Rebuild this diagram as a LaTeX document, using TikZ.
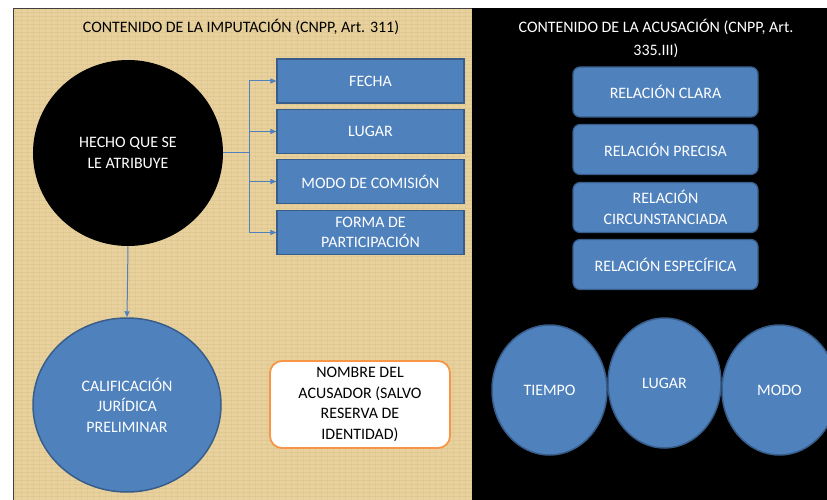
\documentclass[tikz,border=0pt]{standalone}
\usepackage{fontspec}
\setmainfont{Carlito}
\usetikzlibrary{shapes.geometric,arrows.meta}
\definecolor{parch}{HTML}{E8D19D}
\definecolor{parchdark}{HTML}{C4A86C}
\definecolor{bluefill}{HTML}{4F81BD}
\definecolor{blueline}{HTML}{385D8A}
\definecolor{orangeline}{HTML}{F79646}
\tikzset{
  lbl/.style={font=\fontsize{16}{20.5}\selectfont, align=center},
  bluebox/.style={lbl, draw=blueline, line width=1.2pt, fill=bluefill, text=white, minimum width=187bp, minimum height=44bp, inner sep=0pt},
  roundbox/.style={bluebox, rounded corners=7bp, minimum width=185bp, minimum height=50bp},
  blueell/.style={lbl, ellipse, draw=blueline, line width=1.5pt, fill=bluefill, text=white, inner sep=0pt},
  arr/.style={draw=bluefill, line width=1pt, -{Triangle[length=6pt,width=5pt]}},
  conn/.style={draw=bluefill, line width=1pt}
}
\begin{document}
\begin{tikzpicture}[x=1bp,y=-1bp]
\useasboundingbox (0,0) rectangle (827,500);
\clip (0,0) rectangle (827,500);
% left parchment panel
\fill[parch] (13,9) rectangle (472,500);
\begin{scope}
\clip (13,9) rectangle (472,500);
\foreach \y in {12,16,...,500} {\draw[parchdark, opacity=0.18, line width=0.6pt] (13,\y) -- (472,\y);}
\foreach \x in {15,21,...,472} {\draw[parchdark, opacity=0.14, line width=0.6pt] (\x,9) -- (\x,500);}
\end{scope}
\draw[black!75, line width=1pt] (13,500) -- (13,9) -- (472,9);
% right black panel
\fill[black] (472,8) rectangle (827,500);

% titles
\node[lbl, text=black] (tleft) at (241,27) {CONTENIDO DE LA IMPUTACIÓN (CNPP, Art. 311)};
\node[lbl, text=white, font=\fontsize{16}{23}\selectfont] (tright) at (656,38.5) {CONTENIDO DE LA ACUSACIÓN (CNPP, Art.\\335.III)};

% left side
\node[lbl, ellipse, fill=black, text=white, minimum width=190bp, minimum height=186bp, inner sep=0pt] (hecho) at (128,153) {HECHO QUE SE\\LE ATRIBUYE};
\node[bluebox] (fecha) at (370.5,81) {FECHA};
\node[bluebox] (lugar) at (370.5,131.5) {LUGAR};
\node[bluebox] (modo) at (370.5,181.5) {MODO DE COMISIÓN};
\node[bluebox] (forma) at (370.5,232.5) {FORMA DE\\PARTICIPACIÓN};
\coordinate (br) at (249,153);
\draw[conn] (hecho.east) -- (br);
\draw[conn] (br |- fecha.west) -- (br |- forma.west);
\draw[arr] (br |- fecha.west) -- (fecha.west);
\draw[arr] (br |- lugar.west) -- (lugar.west);
\draw[arr] (br |- modo.west) -- (modo.west);
\draw[arr] (br |- forma.west) -- (forma.west);

\node[blueell, minimum width=188bp, minimum height=174bp] (calif) at (127,405) {CALIFICACIÓN\\JURÍDICA\\PRELIMINAR};
\draw[arr] (hecho.south) -- (calif.north);

\node[lbl, draw=orangeline, line width=1.8pt, fill=white, text=black, rounded corners=12bp, minimum width=180bp, minimum height=87bp, inner sep=0pt] (nombre) at (360,404.5) {NOMBRE DEL\\ACUSADOR (SALVO\\RESERVA DE\\IDENTIDAD)};

% right side
\node[roundbox] (clara) at (665.5,92) {RELACIÓN CLARA};
\node[roundbox] (precisa) at (665.5,149.5) {RELACIÓN PRECISA};
\node[roundbox] (circ) at (665.5,207.5) {RELACIÓN\\CIRCUNSTANCIADA};
\node[roundbox] (espec) at (665.5,264.5) {RELACIÓN ESPECÍFICA};

\node[blueell, minimum width=115bp, minimum height=130bp] (tiempo) at (549.5,390) {TIEMPO};
\node[blueell, minimum width=113bp, minimum height=130bp] (lugar2) at (664.5,383) {LUGAR};
\node[blueell, minimum width=115bp, minimum height=130bp] (modo2) at (779.5,390) {MODO};
\end{tikzpicture}
\end{document}
